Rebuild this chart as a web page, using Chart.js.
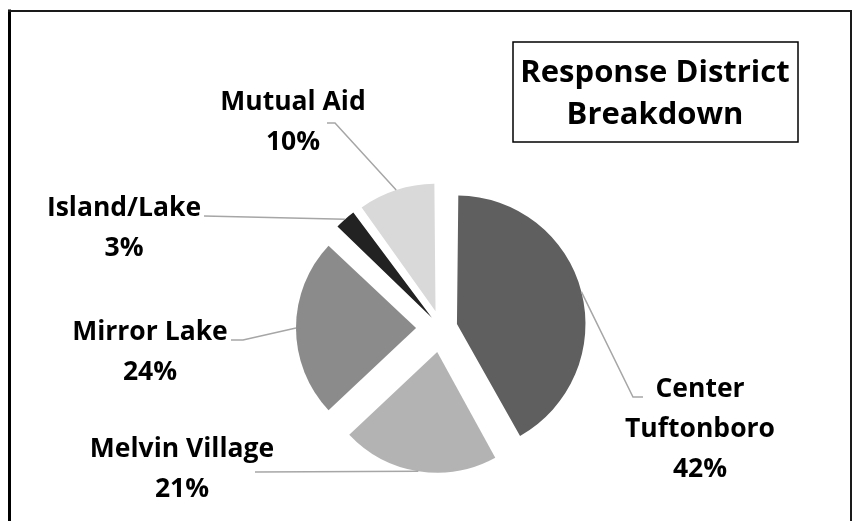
<!DOCTYPE html>
<html>
<head>
<meta charset="utf-8">
<script src="https://cdn.jsdelivr.net/npm/chart.js@4/dist/chart.umd.min.js"></script>
<style>
  html, body { margin: 0; padding: 0; background: #ffffff; }
  #wrap { width: 862px; height: 521px; position: relative; }
</style>
</head>
<body>
<div id="wrap"><canvas id="c" width="862" height="521"></canvas></div>
<script>
// ---- data ----
const categories = ['Center Tuftonboro', 'Melvin Village', 'Mirror Lake', 'Island/Lake', 'Mutual Aid'];
const shares = [42, 21, 24, 3, 10];
const labelLines = [['Center', 'Tuftonboro'], ['Melvin Village'], ['Mirror Lake'], ['Island/Lake'], ['Mutual Aid']];
const titleLines = ['Response District', 'Breakdown'];

// ---- styles / layout ----
const sliceColors = ['#5f5f5f', '#b3b3b3', '#8b8b8b', '#222222', '#d9d9d9'];
const EXPLODE = 25;          // px each slice is pulled out
const FONT = '"Open Sans"';
const LABEL_SIZE = 26.5;
const TITLE_SIZE = 31;
const LINE_GAP = 40;
// label block centre (x, y of first line centre), leader start and elbow shift
const labelLayout = [
  { x: 700, y: 388, ax: 643, ay: 397, elbow: -10 },
  { x: 182, y: 448, ax: 255, ay: 472, elbow: 0 },
  { x: 150, y: 331, ax: 231, ay: 340, elbow: 12 },
  { x: 124, y: 207, ax: 204, ay: 216, elbow: 0 },
  { x: 293, y: 101, ax: 327, ay: 123, elbow: 8 }
];

const total = shares.reduce((a, b) => a + b, 0);

const decorPlugin = {
  id: 'decor',
  afterDatasetsDraw(chart) {
    const ctx = chart.ctx;
    ctx.save();
    // outer chart border (bottom edge lies below the visible area)
    ctx.strokeStyle = '#000';
    ctx.lineWidth = 3;
    ctx.beginPath(); ctx.moveTo(9.5, 9.5); ctx.lineTo(9.5, 530); ctx.stroke();
    ctx.lineWidth = 2;
    ctx.strokeStyle = '#1a1a1a';
    ctx.beginPath(); ctx.moveTo(8, 11); ctx.lineTo(851, 11); ctx.lineTo(851, 530); ctx.stroke();

    // title box
    ctx.strokeStyle = '#000';
    ctx.lineWidth = 1.5;
    ctx.strokeRect(513, 42, 285, 100);
    ctx.fillStyle = '#000';
    ctx.textAlign = 'center';
    ctx.textBaseline = 'alphabetic';
    ctx.font = `bold ${TITLE_SIZE}px ${FONT}`;
    ctx.fillText(titleLines[0], 655, 82);
    ctx.fillText(titleLines[1], 655, 124);

    // leader lines + labels
    const meta = chart.getDatasetMeta(0);
    meta.data.forEach((arc, i) => {
      const p = arc.getProps(['x', 'y', 'startAngle', 'endAngle', 'outerRadius'], true);
      const mid = (p.startAngle + p.endAngle) / 2;
      const ex = p.x + Math.cos(mid) * (EXPLODE + p.outerRadius);
      const ey = p.y + Math.sin(mid) * (EXPLODE + p.outerRadius);
      const L = labelLayout[i];
      ctx.strokeStyle = '#a6a6a6';
      ctx.lineWidth = 1.5;
      ctx.beginPath();
      ctx.moveTo(L.ax, L.ay);
      if (L.elbow) ctx.lineTo(L.ax + L.elbow, L.ay);
      ctx.lineTo(ex, ey);
      ctx.stroke();

      ctx.fillStyle = '#000';
      ctx.font = `bold ${LABEL_SIZE}px ${FONT}`;
      const lines = labelLines[i].concat([Math.round(shares[i] / total * 100) + '%']);
      lines.forEach((t, k) => {
        ctx.fillText(t, L.x, L.y + k * LINE_GAP + 9);
      });
    });
    ctx.restore();
  }
};

function build() {
  new Chart(document.getElementById('c'), {
    type: 'pie',
    data: {
      labels: categories,
      datasets: [{
        data: shares,
        backgroundColor: sliceColors,
        borderWidth: 0,
        offset: (c) => {
          const circ = c.dataset.data[c.dataIndex] / total * 2 * Math.PI;
          return 4 * EXPLODE / (2 - Math.sin(Math.min(Math.PI, circ)));
        },
        hoverOffset: 0
      }]
    },
    options: {
      responsive: false,
      animation: false,
      events: [],
      radius: 120,
      layout: { padding: { left: 20, right: 0, top: 135, bottom: 0 } },
      plugins: { legend: { display: false }, title: { display: false }, tooltip: { enabled: false } }
    },
    plugins: [decorPlugin]
  });
}
if (document.fonts && document.fonts.load) {
  Promise.all([document.fonts.load(`bold ${LABEL_SIZE}px ${FONT}`), document.fonts.load(`bold ${TITLE_SIZE}px ${FONT}`)])
    .then(build, build);
} else { build(); }
</script>
</body>
</html>
